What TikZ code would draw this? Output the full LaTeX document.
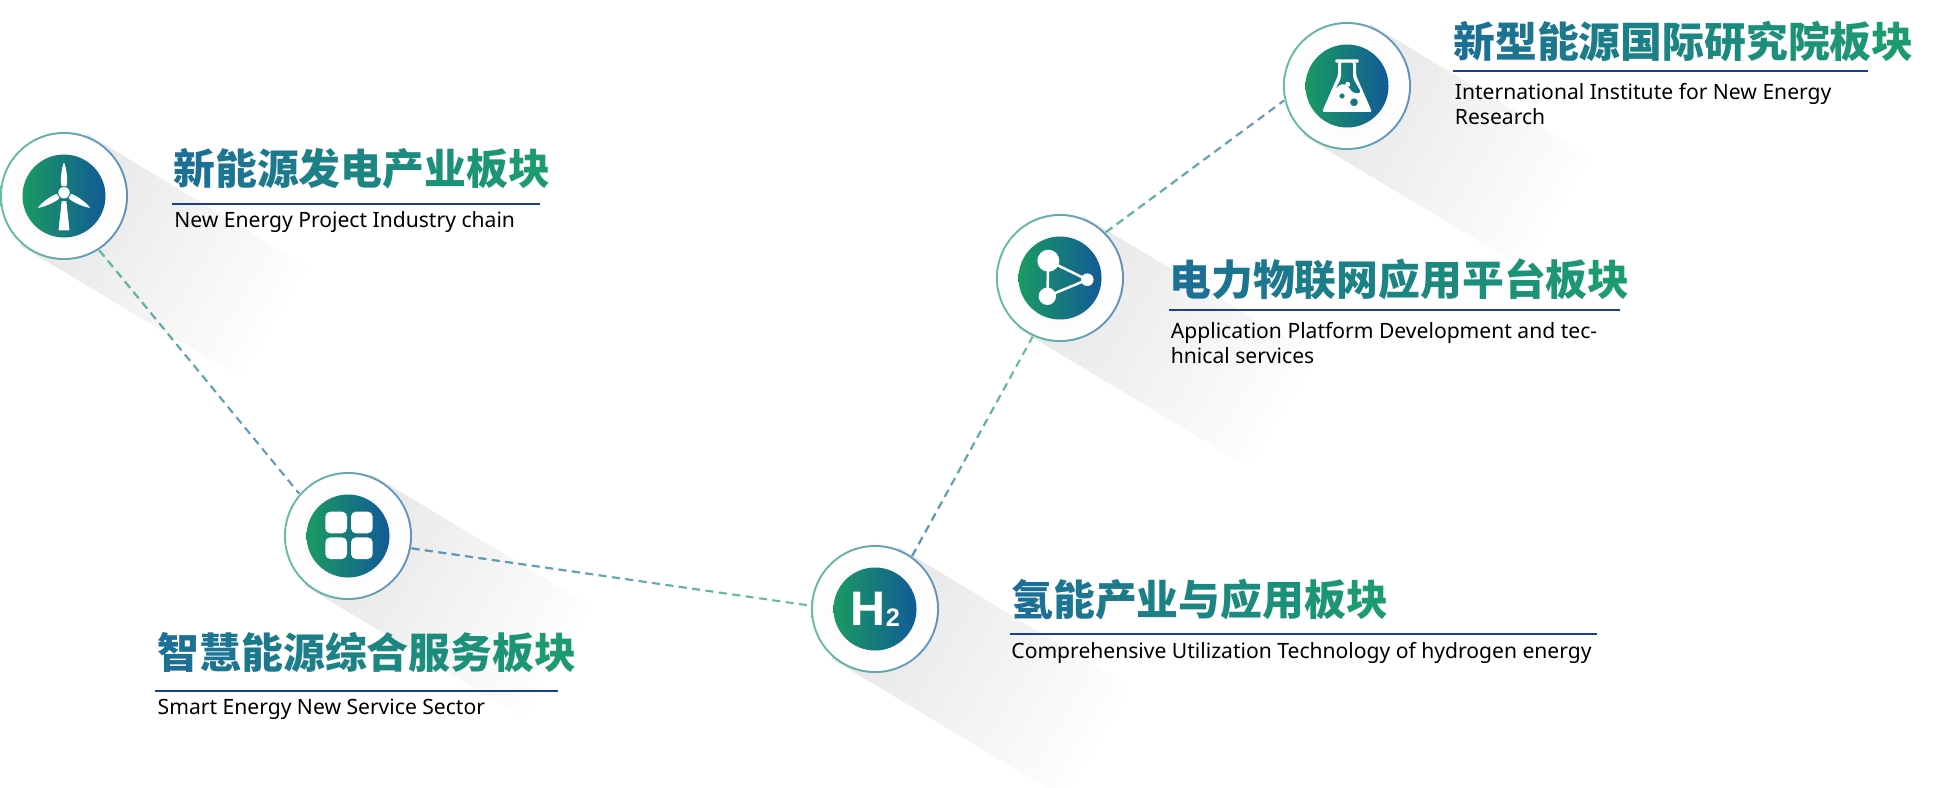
\documentclass[tikz,border=0pt]{standalone}
\usepackage{fontspec}
\usepackage{tikz}
\usetikzlibrary{positioning,backgrounds,fadings,shapes.geometric}
\setmainfont{Noto Sans}
\newfontfamily\cjk[BoldFont=* Black]{Noto Sans CJK SC}
\newfontfamily\hfont{Liberation Sans}
\definecolor{discgreen}{HTML}{1A9A62}
\definecolor{discblue}{HTML}{125A96}
\definecolor{ringgreen}{HTML}{62BE9F}
\definecolor{ringblue}{HTML}{5F90BE}
\definecolor{headgreen}{HTML}{1C9A70}
\definecolor{headblue}{HTML}{1C7095}
\definecolor{rulecol}{HTML}{173F95}
\definecolor{bandgray}{HTML}{E6E6E6}
\definecolor{glowgray}{HTML}{F4F4F4}
\tikzfading[name=bandfade,left color=transparent!0,right color=transparent!96]
% one colour for each character of a heading
\newcommand{\gradhead}[2]{{\cjk\bfseries\foreach \ch [count=\i] in {#2}{\pgfmathtruncatemacro{\pc}{100*(\i-1)/(#1-1)}\textcolor{headgreen!\pc!headblue}{\ch}}}}
\begin{document}
\begin{tikzpicture}[
ringbox/.style={circle,left color=ringgreen,right color=ringblue,minimum size=1.28cm,inner sep=0pt},
whitebox/.style={circle,inner color=glowgray,outer color=white,minimum size=1.24cm,inner sep=0pt},
discbox/.style={circle,left color=discgreen,right color=discblue,minimum size=.83cm,inner sep=0pt,text=white},
rulebox/.style={fill=rulecol,minimum height=.02cm,inner sep=0pt,outer sep=0pt,anchor=west},
headbox/.style={inner sep=0pt,anchor=south west,font=\fontsize{11.9pt}{14pt}\selectfont},
subbox/.style={inner sep=0pt,anchor=north west,align=left,font=\fontsize{6pt}{7.11pt}\selectfont},
greenlink/.style={dashed,dash pattern=on .08cm off .055cm,line width=.02cm,ringgreen},
bluelink/.style={dashed,dash pattern=on .08cm off .055cm,line width=.02cm,ringblue},
icon/.style={white,scale=.01}]
\useasboundingbox (0,0) rectangle (19.44,7.87);
\node[ringbox](turbine) at (.64,5.91){};
\node[ringbox](smart) at (3.48,2.51){};
\node[ringbox](hydrogen) at (8.75,1.78){};
\node[ringbox](platform) at (10.6,5.09){};
\node[ringbox](flask) at (13.47,7.01){};
% white inside of each ring, then the coloured disc
\foreach \n in {turbine,smart,hydrogen,platform,flask}{
\node[whitebox](w\n) at (\n){};
\node[discbox](d\n) at (\n){};
}
% long soft bands behind the rings
\begin{scope}[on background layer]
\foreach \n/\l in {turbine/2.45,smart/2.45,hydrogen/2.6,platform/2.6,flask/2.45}{
\begin{scope}[transform canvas={shift={(\n)},rotate=-31}]
\fill[bandgray,path fading=bandfade](-.12,-.65) rectangle (\l,.65);
\end{scope}
}
\end{scope}
% links
\draw[bluelink](turbine.-57)--(smart.139);
\draw[greenlink,path fading=east](turbine.-57)--(smart.139);
\draw[greenlink](smart.-11)--(hydrogen.177);
\draw[bluelink,path fading=east](smart.-11)--(hydrogen.177);
\draw[greenlink](hydrogen.55)--(platform.245);
\draw[bluelink,path fading=east](hydrogen.55)--(platform.245);
\draw[bluelink](platform.45)--(flask.193);
\draw[greenlink,path fading=east](platform.45)--(flask.193);
% turbine icon
\begin{scope}[shift={(turbine)},icon]
\foreach \a in {0,120,240}
\fill[rotate around={\a:(0,3.3)}](-2.5,10) .. controls (-4.2,16) and (-2,30) .. (0,33.5) .. controls (2,30) and (4.2,16) .. (2.5,10) -- cycle;
\fill(-2.3,-5)--(2.3,-5)--(5.5,-34.3)--(-5.5,-34.3)--cycle;
\fill(0,3.3) circle (5.7);
\end{scope}
% smart icon
\begin{scope}[shift={(smart)},icon]
\foreach \x/\y in {-22.7/2.7,3/2.7,-22.7/-23,3/-23}
\fill[rounded corners=.05cm](\x,\y) rectangle ++(21.7,21.7);
\end{scope}
% flask icon
\begin{scope}[shift={(flask)},icon]
\fill[even odd rule,rounded corners=.02cm](-9,10.7)--(-9,24)--(9,24)--(9,10.7)--(25,-26)--(-25,-26)--cycle
(-6,24)--(-6,8)--(-12,-4) .. controls (-7,3) and (-2,3) .. (3,-3) .. controls (6,-7) and (10,-8) .. (14,-6)--(6,8)--(6,24)--cycle
(-5,-10) circle (2.7) (7,-16.3) circle (4);
\fill[rounded corners=.01cm](-11.7,23.3) rectangle (11.7,26.7);
\fill(.7,1.7) circle (2.5);
\end{scope}
% platform icon
\begin{scope}[shift={(platform)},icon]
\fill(-11.7,17.3) circle (11);
\fill(-12.7,-18.3) circle (8.7);
\fill(27.3,-1.7) circle (6.3);
\draw[white,line width=.025cm](-11.7,17.3)--(27.3,-1.7)--(-12.7,-18.3)--cycle;
\end{scope}
\node[text=white,inner sep=0pt,font=\hfont\bfseries\fontsize{13.8pt}{14pt}\selectfont](hlabel) at ([xshift=-.073cm]hydrogen){H};
\node[text=white,inner sep=0pt,font=\hfont\bfseries\fontsize{7.2pt}{8pt}\selectfont](hsub) at ([xshift=.18cm,yshift=-.09cm]hydrogen){2};
% turbine text
\node[rulebox,minimum width=3.68cm,right=.43cm of turbine,yshift=-.08cm](ruleturbine){};
\node[headbox] (headturbine) at ([xshift=.01cm,yshift=.14cm]ruleturbine.west){\gradhead{9}{新,能,源,发,电,产,业,板,块}};
\node[subbox] (subturbine) at ([xshift=.02cm,yshift=-.065cm]ruleturbine.west){New Energy Project Industry chain};
% smart text
\node[rulebox,minimum width=4.03cm] (rulesmart) at (1.55,.96){};
\node[headbox] (headsmart) at ([xshift=.02cm,yshift=.18cm]rulesmart.west){\gradhead{10}{智,慧,能,源,综,合,服,务,板,块}};
\node[subbox] (subsmart) at ([xshift=.02cm,yshift=-.07cm]rulesmart.west){Smart Energy New Service Sector};
% hydrogen text
\node[rulebox,minimum width=5.87cm,right=.70cm of hydrogen,yshift=-.25cm](rulehydrogen){};
\node[headbox] (headhydrogen) at ([xshift=.01cm,yshift=.13cm]rulehydrogen.west){\gradhead{9}{氢,能,产,业,与,应,用,板,块}};
\node[subbox] (subhydrogen) at ([xshift=.01cm,yshift=-.08cm]rulehydrogen.west){Comprehensive Utilization Technology of hydrogen energy};
% platform text
\node[rulebox,minimum width=4.51cm,right=.44cm of platform,yshift=-.32cm](ruleplatform){};
\node[headbox] (headplatform) at ([xshift=0cm,yshift=.09cm]ruleplatform.west){\gradhead{11}{电,力,物,联,网,应,用,平,台,板,块}};
\node[subbox] (subplatform) at ([xshift=.015cm,yshift=-.115cm]ruleplatform.west){Application Platform Development and tec-\\hnical services};
% flask text
\node[rulebox,minimum width=4.15cm,right=.41cm of flask,yshift=.15cm](ruleflask){};
\node[headbox] (headflask) at ([xshift=0cm,yshift=.08cm]ruleflask.west){\gradhead{11}{新,型,能,源,国,际,研,究,院,板,块}};
\node[subbox] (subflask) at ([xshift=.015cm,yshift=-.115cm]ruleflask.west){International Institute for New Energy\\Research};
\end{tikzpicture}
\end{document}
